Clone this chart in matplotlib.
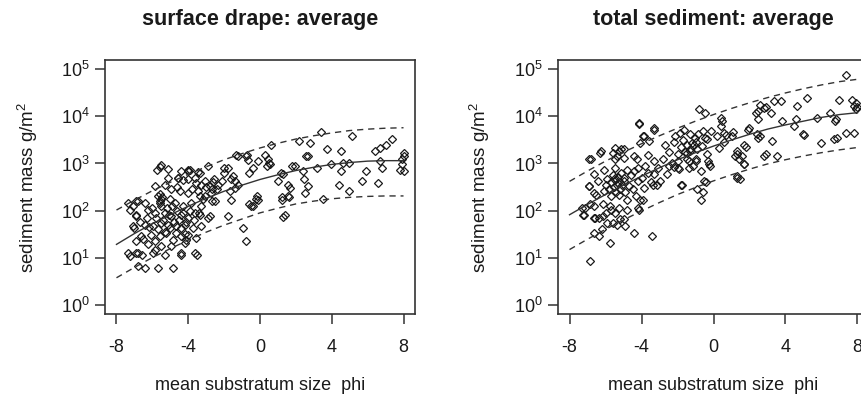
import numpy as np
import matplotlib
matplotlib.use("Agg")
import matplotlib.pyplot as plt
from matplotlib.ticker import NullLocator

plt.rcParams['font.family'] = ['Liberation Sans', 'DejaVu Sans']
plt.rcParams['mathtext.fontset'] = 'custom'
plt.rcParams['mathtext.rm'] = 'Liberation Sans'
plt.rcParams['mathtext.it'] = 'Liberation Sans:italic'
plt.rcParams['mathtext.bf'] = 'Liberation Sans:bold'

# ---------------- data ----------------
titles = ["surface drape: average", "total sediment: average"]
x_label = "mean substratum size  phi"
y_label = r"sediment mass g/m$^{\mathregular{2}}$"
x_ticks = [-8, -4, 0, 4, 8]
y_tick_exponents = [0, 1, 2, 3, 4, 5]

# curve grid (phi) and log10 sediment mass of fit / prediction bands
curve_phi = [-8, -7, -6, -5, -4, -3, -2, -1, 0, 1, 2, 3, 4, 5, 6, 7, 8]
drape_fit = [1.28, 1.51, 1.72, 1.91, 2.09, 2.26, 2.41, 2.54, 2.66, 2.76, 2.85, 2.92, 2.98, 3.02, 3.05, 3.06, 3.06]
drape_upper = [2.01, 2.22, 2.42, 2.60, 2.77, 2.93, 3.08, 3.21, 3.33, 3.43, 3.52, 3.59, 3.65, 3.70, 3.73, 3.75, 3.76]
drape_lower = [0.57, 0.79, 1.00, 1.19, 1.37, 1.54, 1.69, 1.82, 1.95, 2.05, 2.14, 2.20, 2.25, 2.28, 2.30, 2.31, 2.31]
total_fit = [1.91, 2.13, 2.34, 2.54, 2.73, 2.91, 3.08, 3.23, 3.37, 3.50, 3.62, 3.73, 3.82, 3.90, 3.98, 4.04, 4.08]
total_upper = [2.62, 2.84, 3.05, 3.24, 3.42, 3.59, 3.75, 3.90, 4.04, 4.17, 4.29, 4.40, 4.50, 4.59, 4.67, 4.74, 4.79]
total_lower = [1.17, 1.39, 1.60, 1.80, 1.99, 2.17, 2.34, 2.49, 2.63, 2.76, 2.88, 2.99, 3.08, 3.16, 3.23, 3.29, 3.34]

# observations: (phi, log10 sediment mass g/m2)
drape_points = [
    (8.0, 3.23), (8.0, 3.16), (7.9, 2.98), (7.8, 2.87), (8.0, 2.84), (7.9, 3.09), (7.37, 3.51),
    (7.0, 3.40), (6.7, 3.33), (6.4, 3.26), (6.7, 3.05), (6.8, 2.91), (6.6, 2.59), (5.9, 2.84),
    (5.7, 2.62), (4.96, 3.01), (5.15, 3.58), (4.96, 2.41), (4.5, 3.26), (4.6, 3.01), (4.5, 2.84),
    (4.4, 2.55), (3.76, 3.30), (3.94, 2.98), (3.4, 3.67), (3.5, 2.25), (3.2, 2.91), (2.76, 3.44),
    (2.57, 3.16), (2.48, 2.66), (2.67, 2.52), (2.52, 2.38), (2.2, 3.48), (2.4, 2.84), (1.94, 2.94),
    (1.57, 2.55), (1.67, 2.48), (1.57, 2.30), (1.3, 2.77), (1.2, 2.23), (1.39, 1.91), (1.3, 1.87),
    (1.0, 2.62), (0.6, 3.40), (0.46, 3.09), (0.37, 2.94), (0.5, 3.02), (0.28, 3.19), (0.55, 2.98),
    (-0.09, 3.05), (-0.09, 2.23), (-0.19, 2.30), (-0.25, 2.25), (-0.4, 2.09), (-0.6, 2.13),
    (-0.4, 2.91), (-0.6, 2.80), (-0.7, 3.19), (-0.8, 3.15), (-0.65, 3.08), (-0.78, 1.35),
    (-0.96, 1.63), (-1.2, 3.16), (-1.33, 3.19), (-1.4, 2.48), (-1.2, 2.55), (-1.6, 2.66),
    (-1.5, 2.73), (-1.4, 2.62), (-1.8, 2.91), (-1.7, 2.41), (-1.6, 2.23), (-2.0, 2.80),
    (-2.1, 2.62), (-1.8, 1.88), (-2.5, 2.20), (-2.54, 2.66), (-2.35, 2.55), (-2.7, 2.45),
    (2.67, 3.15), (1.8, 2.94), (1.17, 2.80), (1.2, 2.28), (1.6, 2.28), (-0.5, 2.09), (-2.0, 2.91),
    (-5.50, 2.96), (-5.13, 2.89), (-4.39, 2.84), (-4.02, 2.87), (-3.46, 2.82), (-2.91, 2.94),
    (-4.57, 2.69), (-4.02, 2.66), (-3.56, 2.59), (-3.09, 2.62), (-2.81, 2.52), (-5.87, 2.52),
    (-5.31, 2.55), (-4.94, 2.45), (-4.48, 2.41), (-4.02, 2.38), (-3.46, 2.41), (-3.09, 2.30),
    (-2.72, 2.38), (-7.35, 2.16), (-6.89, 2.20), (-6.43, 2.16), (-5.69, 2.30), (-5.59, 2.20),
    (-5.50, 2.09), (-4.76, 2.16), (-4.30, 2.09), (-3.83, 2.16), (-3.28, 2.09), (-6.89, 1.91),
    (-6.24, 2.02), (-5.87, 1.95), (-5.31, 1.95), (-4.94, 1.88), (-4.39, 1.91), (-4.02, 1.84),
    (-3.65, 1.95), (-2.91, 1.84), (-7.00, 1.63), (-6.43, 1.70), (-5.96, 1.67), (-5.50, 1.74),
    (-5.13, 1.70), (-4.67, 1.67), (-4.20, 1.70), (-3.74, 1.63), (-3.28, 1.67), (-6.61, 1.45),
    (-6.06, 1.49), (-5.59, 1.45), (-5.22, 1.52), (-4.85, 1.38), (-4.39, 1.45), (-4.02, 1.49),
    (-3.56, 1.42), (-6.24, 1.28), (-5.87, 1.35), (-5.50, 1.24), (-4.94, 1.24), (-4.20, 1.31),
    (-7.35, 1.10), (-6.80, 1.10), (-5.87, 1.17), (-5.31, 1.06), (-4.39, 1.10), (-3.65, 1.10),
    (-6.0, 2.05), (-5.8, 1.85), (-5.7, 1.60), (-5.4, 1.80), (-5.3, 1.55), (-5.1, 1.90), (-5.0, 1.62),
    (-4.9, 2.10), (-4.8, 1.75), (-4.7, 1.52), (-4.6, 2.00), (-4.5, 1.80), (-4.4, 1.62), (-4.3, 1.95),
    (-4.2, 1.50), (-6.2, 1.65), (-6.3, 1.85), (-6.5, 1.40), (-6.7, 1.75), (-6.9, 1.35), (-5.55, 2.15),
    (-5.6, 2.35), (-5.5, 2.25), (-5.45, 2.28), (-5.2, 2.05), (-5.0, 2.25), (-4.1, 1.75), (-3.9, 2.0),
    (-3.7, 1.8), (-3.4, 1.95), (-3.2, 2.25), (-3.0, 2.5), (-2.6, 2.6), (-2.4, 2.45), (-4.6, 2.5),
    (-4.3, 2.65), (-3.8, 2.45), (-3.6, 2.7), (-3.3, 2.55), (-2.7, 2.2),
    (-7.26, 2.02), (-7.07, 2.09), (-6.9, 1.88), (-7.07, 1.67), (-6.8, 2.20), (-7.26, 1.03),
    (-6.9, 1.10), (-6.6, 1.06), (-6.8, 0.82), (-6.43, 0.78), (-5.69, 0.78), (-4.85, 0.78),
    (-5.96, 1.10), (-4.4, 1.06), (-3.5, 1.06), (-4.1, 1.38), (-3.37, 1.91), (-2.81, 1.88),
    (-3.37, 2.30), (-4.0, 2.84), (-3.9, 2.87), (-3.37, 2.80), (-4.57, 2.70), (-5.13, 2.70),
    (-5.75, 2.87), (-5.55, 2.92),
]

total_points = [
    (7.35, 4.89), (7.72, 4.36), (7.9, 4.28), (7.95, 4.20), (7.8, 4.22), (7.9, 4.15), (6.98, 4.36),
    (6.5, 4.08), (6.8, 3.94), (6.75, 3.90), (7.35, 3.65), (7.8, 3.65), (6.7, 3.51), (6.85, 3.55),
    (5.96, 3.44), (5.77, 3.97), (5.21, 4.40), (4.66, 4.22), (4.56, 3.94), (4.47, 3.79), (5.0, 3.62),
    (5.02, 3.60), (3.82, 3.90), (3.73, 4.33), (3.36, 4.33), (3.17, 4.08), (2.8, 4.18), (2.5, 4.11),
    (2.6, 4.25), (2.34, 4.08), (2.5, 3.94), (2.6, 3.58), (3.27, 3.48), (3.54, 3.16), (2.8, 3.16),
    (2.43, 3.62), (1.97, 3.76), (1.69, 3.40), (1.6, 3.16), (1.69, 2.98), (1.32, 3.26), (1.22, 3.16),
    (1.3, 3.20), (1.32, 2.73), (1.04, 3.58), (0.58, 3.65), (0.39, 3.97), (0.48, 3.90), (0.39, 3.79),
    (0.2, 3.58), (0.3, 3.33), (0.6, 3.45), (-0.26, 2.98), (-0.2, 2.95), (-0.54, 2.62), (-0.72, 2.23),
    (-0.9, 2.45), (-0.82, 4.15), (-0.45, 4.08), (-0.35, 3.51), (-0.63, 3.37), (-0.9, 3.30),
    (-1.1, 3.40), (-1.28, 3.26), (-1.45, 3.22), (-1.74, 2.55), (-1.65, 3.72), (-1.84, 3.65),
    (-2.12, 3.58), (-2.0, 2.91), (-2.49, 2.94), (-2.67, 3.40), (-2.58, 2.77), (-2.95, 2.62),
    (-3.14, 2.55), (-3.32, 3.76), (-3.41, 1.45), (-3.88, 3.58), (-4.16, 3.87), (-4.06, 3.44),
    (-4.25, 3.09), (-4.06, 2.23), (-4.16, 2.02), (-4.43, 1.52), (-4.9, 1.67), (-5.36, 1.70),
    (-5.73, 1.31), (-5.92, 1.74), (-6.2, 1.60), (-6.38, 1.45), (-6.66, 1.52), (-6.85, 0.92),
    (-6.94, 3.09), (-6.94, 2.52), (-6.29, 3.23), (-6.66, 2.77), (-6.66, 2.38), (-6.85, 2.13),
    (-7.31, 2.06), (-7.22, 1.91), (-6.57, 1.84), (-6.38, 1.84), (-6.0, 1.95), (-5.73, 2.09),
    (-5.45, 1.95), (-5.18, 1.81), (-5.45, 3.33), (-5.27, 3.26), (-4.99, 3.30), (-5.36, 3.16),
    (1.9, 3.72), (2.9, 4.20), (0.7, 3.60), (1.1, 3.66), (2.5, 3.55), (1.4, 3.10), (1.8, 3.35),
    (2.9, 3.20), (1.7, 2.98), (1.3, 2.70), (1.5, 2.68), (-0.4, 2.60), (-0.6, 2.40), (-1.8, 2.55),
    (-1.7, 3.50), (-1.5, 3.40), (-1.3, 3.30), (-1.0, 3.05), (-0.95, 3.45), (-0.6, 3.70), (-1.2, 3.43),
    (-1.0, 3.10), (-1.35, 3.05), (-2.0, 3.05), (-2.2, 2.92), (-1.9, 2.88), (-1.35, 2.90),
    (-0.3, 3.05), (-0.35, 3.20),
    (-4.13, 3.83), (-3.29, 3.72), (-3.94, 3.58), (-3.57, 3.47), (-6.26, 3.26), (-5.61, 3.23),
    (-5.15, 3.30), (-6.81, 3.09), (-5.50, 3.09), (-4.96, 3.12), (-4.41, 3.16), (-3.66, 3.19),
    (-3.29, 3.05), (-6.07, 2.87), (-5.50, 2.91), (-5.15, 2.80), (-4.78, 2.87), (-4.22, 2.91),
    (-3.66, 2.80), (-3.29, 2.77), (-6.90, 2.52), (-6.44, 2.62), (-5.89, 2.66), (-5.50, 2.70),
    (-5.33, 2.59), (-4.96, 2.62), (-4.68, 2.52), (-4.22, 2.62), (-3.85, 2.48), (-3.38, 2.55),
    (-6.53, 2.34), (-6.07, 2.41), (-5.70, 2.30), (-5.24, 2.34), (-4.78, 2.23), (-4.31, 2.30),
    (-3.94, 2.23), (-7.16, 2.06), (-6.63, 2.09), (-6.16, 2.13), (-5.70, 2.02), (-5.24, 2.06),
    (-4.78, 2.02), (-4.22, 2.06), (-7.26, 1.91), (-6.63, 1.84), (-6.16, 1.88), (-5.61, 1.74),
    (-4.96, 1.81),
    (-5.45, 2.65), (-5.35, 2.55), (-5.3, 2.72), (-5.55, 2.50), (-5.2, 2.45), (-5.6, 2.75),
    (-5.4, 2.40), (-5.0, 2.70), (-5.1, 2.55), (-5.7, 2.60), (-5.8, 2.45), (-6.0, 2.55), (-4.9, 2.40),
    (-4.6, 2.75), (-4.5, 2.45), (-4.4, 2.85), (-4.0, 2.70), (-3.8, 2.95), (-3.5, 2.60), (-3.1, 2.90),
    (-2.8, 3.10), (-2.5, 3.25), (-2.3, 3.00), (-2.0, 3.20), (-1.8, 3.35), (-1.5, 3.10), (-1.3, 3.62),
    (-1.05, 3.55), (-0.85, 3.62), (-0.7, 2.85), (-1.6, 3.25), (-1.15, 2.95), (-2.2, 3.45),
    (-0.5, 3.55), (-0.15, 3.70),
]

panels = [
    (titles[0], drape_points, drape_fit, drape_upper, drape_lower),
    (titles[1], total_points, total_fit, total_upper, total_lower),
]

# ---------------- figure ----------------
W, H = 861, 395
fig = plt.figure(figsize=(W / 100, H / 100), dpi=100)
ink = '#1a1a1a'
axes_px = [(105, 60, 310, 254), (558, 60, 311, 254)]  # left, top, width, height in px

for (title, pts, fit, up, lo), (l, t, w, h) in zip(panels, axes_px):
    ax = fig.add_axes([l / W, 1 - (t + h) / H, w / W, h / H])
    ax.set_yscale('log')
    phi = np.array([p[0] for p in pts])
    logm = np.array([p[1] for p in pts])
    ax.plot(phi, np.power(10.0, logm), linestyle='none', marker='D', ms=4.5,
            mfc='none', mec=ink, mew=0.9)
    cp = np.array(curve_phi)
    ax.plot(cp, np.power(10.0, fit), color='#333333', lw=1.0)
    ax.plot(cp, np.power(10.0, up), color='#333333', lw=1.0, linestyle=(0, (4.5, 3.5)))
    ax.plot(cp, np.power(10.0, lo), color='#333333', lw=1.0, linestyle=(0, (4.5, 3.5)))

    ax.set_xlim(-8.64, 8.64)
    ax.set_ylim(10 ** -0.2, 10 ** 5.2)
    ax.set_xticks(x_ticks)
    ax.set_xticklabels([str(v) if v >= 0 else '-' + str(-v) for v in x_ticks])
    ax.set_yticks([10.0 ** e for e in y_tick_exponents])
    ax.set_yticklabels([r'$\mathregular{10^{%d}}$' % e for e in y_tick_exponents])
    ax.yaxis.set_minor_locator(NullLocator())
    ax.tick_params(direction='out', length=7, width=1.1, color='#333333',
                   labelsize=13, labelcolor=ink)
    ax.tick_params(axis='x', pad=11)
    ax.tick_params(axis='y', pad=4)
    for s in ax.spines.values():
        s.set_color('#333333')
        s.set_linewidth(1.2)

    ax.set_xlabel(x_label, fontsize=13, color=ink)
    ax.xaxis.set_label_coords(0.5, -(385 - (t + h)) / h)
    ax.xaxis.label.set_va('center')
    ax.set_ylabel(y_label, fontsize=13.5, color=ink)
    ax.yaxis.set_label_coords(-(l - (28 if l < 400 else 480)) / w, 0.5)
    ax.yaxis.label.set_va('center')

    fig.text((l + w / 2) / W, 1 - 19 / H, title, ha='center', va='center',
             fontsize=15.5, fontweight='bold', color=ink)

fig.savefig('out.png', dpi=100)
